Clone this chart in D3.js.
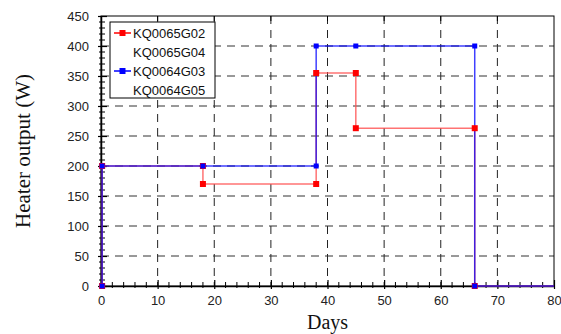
<!DOCTYPE html>
<html>
<head>
<meta charset="utf-8">
<script src="https://cdn.jsdelivr.net/npm/d3@7"></script>
<style>
    body { margin: 0; background: #fff; }
    svg text { font-family: "Liberation Sans", Arial, sans-serif; }
    .title { font-family: "Liberation Serif", "Times New Roman", serif; }
</style>
</head>
<body>
<div id="chart"></div>
<script>
"use strict";

// Series data (days, watts)
let g02Days = [0.2, 0.2, 18, 18, 38, 38, 45, 45, 66, 66, 86];
let g02Watts = [0, 200, 200, 170, 170, 355, 355, 263, 263, 0, 0];
let g03Days = [0.2, 0.2, 18, 38, 38, 45, 66, 66, 86];
let g03Watts = [0, 200, 200, 200, 400, 400, 400, 0, 0];

let legendNames = ["KQ0065G02", "KQ0065G04", "KQ0064G03", "KQ0064G05"];
let xTicks = [0, 10, 20, 30, 40, 50, 60, 70, 80];
let yTicks = [0, 50, 100, 150, 200, 250, 300, 350, 400, 450];

function chart() {
    let width = 561;
    let height = 334;
    let left = 101;
    let right = 554;
    let top = 16;
    let bottom = 286;

    let xScale = d3.scaleLinear().domain([0, 80]).range([left, right]);
    let yScale = d3.scaleLinear().domain([0, 450]).range([bottom, top]);

    let svg = d3.select("#chart").append("svg")
        .attr("width", width).attr("height", height);

    svg.append("defs").append("clipPath").attr("id", "clip")
        .append("rect").attr("x", left - 6).attr("y", top - 6)
        .attr("width", right - left + 6).attr("height", bottom - top + 12);

    // Dashed grid
    svg.append("g").selectAll("line").data(xTicks.slice(1, -1)).enter()
        .append("line")
        .attr("x1", function (d) { return xScale(d); })
        .attr("x2", function (d) { return xScale(d); })
        .attr("y1", top).attr("y2", bottom)
        .attr("stroke", "#222").attr("stroke-width", 1)
        .attr("stroke-dasharray", "8,6");
    svg.append("g").selectAll("line").data(yTicks.slice(1, -1)).enter()
        .append("line")
        .attr("y1", function (d) { return yScale(d); })
        .attr("y2", function (d) { return yScale(d); })
        .attr("x1", left).attr("x2", right)
        .attr("stroke", "#333").attr("stroke-width", 1)
        .attr("stroke-dasharray", "8,6");

    // Frame
    svg.append("rect").attr("x", left).attr("y", top)
        .attr("width", right - left).attr("height", bottom - top)
        .attr("fill", "none").attr("stroke", "#000").attr("stroke-width", 1);

    // Small ticks on the top edge
    svg.append("g").selectAll("line").data(xTicks.slice(1, -1)).enter()
        .append("line")
        .attr("x1", function (d) { return xScale(d); })
        .attr("x2", function (d) { return xScale(d); })
        .attr("y1", top).attr("y2", top + 5).attr("stroke", "#000");

    // Axes with minor ticks
    let xMinor = d3.range(0, 81, 2).filter(function (d) { return d % 10 !== 0; });
    let yMinor = d3.range(0, 451, 10).filter(function (d) { return d % 50 !== 0; });

    let xAxis = svg.append("g").attr("transform", `translate(0,${bottom})`)
        .call(d3.axisBottom(xScale).tickValues(xTicks).tickSizeInner(-5).tickSizeOuter(0).tickPadding(10));
    xAxis.select(".domain").attr("stroke-width", 1.5);
    xAxis.selectAll(".tick line").attr("y2", -6).attr("y1", 3).attr("stroke-width", 1.2);
    xAxis.selectAll("text").attr("font-size", "13px").attr("fill", "#222")
        .attr("font-family", "Liberation Sans, Arial, sans-serif");
    xAxis.append("g").selectAll("line").data(xMinor).enter().append("line")
        .attr("x1", function (d) { return xScale(d); })
        .attr("x2", function (d) { return xScale(d); })
        .attr("y1", 2).attr("y2", -4).attr("stroke", "#000");

    let yAxis = svg.append("g").attr("transform", `translate(${left},0)`)
        .call(d3.axisLeft(yScale).tickValues(yTicks).tickSizeOuter(0).tickPadding(6));
    yAxis.select(".domain").attr("stroke-width", 1.5);
    yAxis.selectAll(".tick line").attr("x1", 6).attr("x2", -3).attr("stroke-width", 1.2);
    yAxis.selectAll("text").attr("font-size", "13px").attr("fill", "#222")
        .attr("font-family", "Liberation Sans, Arial, sans-serif");
    yAxis.append("g").selectAll("line").data(yMinor).enter().append("line")
        .attr("y1", function (d) { return yScale(d); })
        .attr("y2", function (d) { return yScale(d); })
        .attr("x1", -2).attr("x2", 4).attr("stroke", "#000");

    // Axis titles
    svg.append("text").attr("class", "title")
        .attr("transform", `translate(30,${(top + bottom) / 2}) rotate(-90)`)
        .attr("text-anchor", "middle").attr("font-size", "21px").attr("fill", "#111")
        .text("Heater output (W)");
    svg.append("text").attr("class", "title")
        .attr("x", (left + right) / 2).attr("y", 329)
        .attr("text-anchor", "middle").attr("font-size", "20px").attr("fill", "#111")
        .text("Days");

    // Series
    let series = [
        {days: g02Days, watts: g02Watts, line: "#ff5050", marker: "#ff0000", opacity: 0.8, size: 6},
        {days: g03Days, watts: g03Watts, line: "#0000ff", marker: "#0000ff", opacity: 0.75, size: 5}
    ];

    let plot = svg.append("g").attr("clip-path", "url(#clip)");
    let line = d3.line()
        .x(function (d) { return xScale(d[0]); })
        .y(function (d) { return yScale(d[1]); });

    series.forEach(function (s) {
        let pts = d3.zip(s.days, s.watts);
        plot.append("path").datum(pts)
            .attr("d", line).attr("fill", "none")
            .attr("stroke", s.line).attr("stroke-width", 1.5)
            .attr("stroke-opacity", s.opacity);
    });
    series.forEach(function (s) {
        let pts = d3.zip(s.days, s.watts).filter(function (d) { return d[0] <= 80; });
        plot.selectAll(null).data(pts).enter().append("rect")
            .attr("x", function (d) { return xScale(d[0]) - s.size / 2; })
            .attr("y", function (d) { return yScale(d[1]) - s.size / 2; })
            .attr("width", s.size).attr("height", s.size)
            .attr("fill", s.marker);
    });

    // Legend
    let legend = svg.append("g").attr("transform", "translate(110,22)");
    legend.append("rect").attr("width", 105).attr("height", 76)
        .attr("fill", "#fff").attr("stroke", "#000").attr("stroke-width", 1);
    let legendColours = ["#ff0000", null, "#0000ff", null];
    legendNames.forEach(function (name, i) {
        let y = 11 + i * 19;
        if (legendColours[i]) {
            legend.append("line").attr("x1", 4).attr("x2", 21).attr("y1", y).attr("y2", y)
                .attr("stroke", legendColours[i]).attr("stroke-width", 1.5);
            legend.append("rect").attr("x", 9.5).attr("y", y - 3).attr("width", 6).attr("height", 6)
                .attr("fill", legendColours[i]);
        }
        legend.append("text").attr("x", 23).attr("y", y + 5)
            .attr("font-size", "13px").attr("fill", "#111").text(name);
    });
}

window.onload = function () {
    chart();
};
</script>
</body>
</html>
